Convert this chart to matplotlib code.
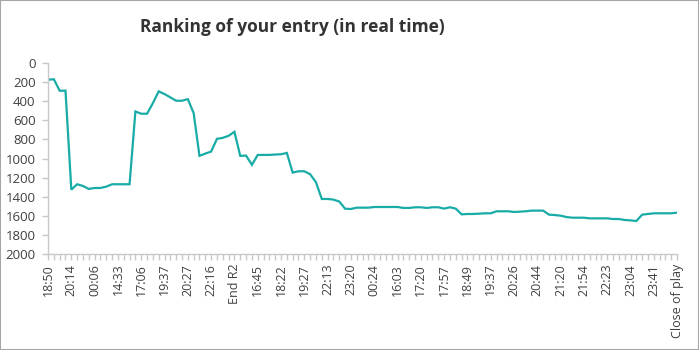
import numpy as np
import matplotlib.pyplot as plt
from matplotlib.patches import Rectangle

# ranking after each update, one value per category on the x axis
ranks = [175, 170, 290, 290, 1325, 1269, 1287, 1318, 1308, 1308,
         1294, 1269, 1269, 1269, 1269, 507, 531, 531, 420, 297,
         325, 360, 395, 395, 378, 524, 972, 948, 927, 794,
         783, 762, 720, 972, 969, 1066, 962, 962, 962, 958,
         955, 941, 1147, 1133, 1133, 1164, 1248, 1423, 1423, 1430,
         1450, 1525, 1528, 1514, 1514, 1514, 1507, 1507, 1507, 1507,
         1507, 1517, 1517, 1510, 1510, 1517, 1510, 1510, 1524, 1510,
         1524, 1584, 1580, 1580, 1577, 1573, 1573, 1552, 1552, 1552,
         1559, 1556, 1552, 1545, 1545, 1545, 1587, 1591, 1598, 1612,
         1619, 1619, 1619, 1626, 1626, 1626, 1626, 1633, 1633, 1643,
         1647, 1654, 1587, 1580, 1573, 1573, 1573, 1573, 1566]

# every fourth category gets a label
shown_labels = ['18:50', '20:14', '00:06', '14:33', '17:06', '19:37', '20:27',
                '22:16', 'End R2', '16:45', '18:22', '19:27', '22:13', '23:20',
                '00:24', '16:03', '17:20', '17:57', '18:49', '19:37', '20:26',
                '20:44', '21:20', '21:54', '22:23', '23:04', '23:41',
                'Close of play']
label_step = 4
y_ticks = list(range(0, 2001, 200))

plt.rcParams['font.family'] = ['Open Sans', 'DejaVu Sans']

fig = plt.figure(figsize=(6.99, 3.5), dpi=100)
fig.patches.append(Rectangle((0, 0), 1, 1, transform=fig.transFigure,
                             fill=False, edgecolor='#A6A6A6', linewidth=1.5))
ax = fig.add_axes([0.0687, 0.274, 0.9, 0.546])

x = np.arange(len(ranks))
ax.plot(x, ranks, color='#19ACA7', linewidth=1.6, solid_joinstyle='miter')

labels = [''] * len(ranks)
for k, lab in enumerate(shown_labels):
    labels[k * label_step] = lab
ax.set_xticks(x)
ax.set_xticklabels(labels, rotation=90, fontsize=9, color='#404040')
ax.set_xlim(0, len(ranks) - 1)

ax.set_ylim(2000, 0)
ax.set_yticks(y_ticks)
ax.set_yticklabels([str(v) for v in y_ticks], fontsize=9.5, color='#404040')

for side in ['top', 'right']:
    ax.spines[side].set_visible(False)
for side in ['left', 'bottom']:
    ax.spines[side].set_color('#C8C8C8')
    ax.spines[side].set_linewidth(1.0)
ax.tick_params(axis='both', color='#C8C8C8', length=4, width=1.0, pad=3)
ax.tick_params(axis='y', pad=5)

fig.text(0.418, 0.922, 'Ranking of your entry (in real time)', ha='center',
         va='center', fontsize=12.5, fontweight='bold', color='#333333')

fig.savefig('out.png', dpi=100)
